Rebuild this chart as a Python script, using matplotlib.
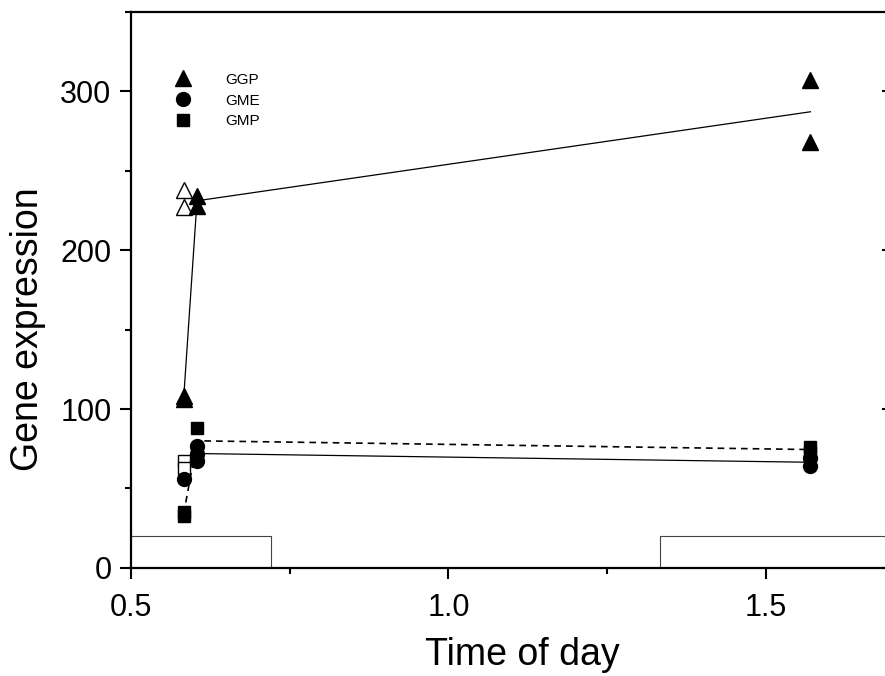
import matplotlib
matplotlib.use("Agg")
import matplotlib.pyplot as plt
from matplotlib.ticker import MultipleLocator

plt.rcParams["font.family"] = ["Liberation Sans", "DejaVu Sans"]

# time of day for each group of samples
t_a = 0.583
t_b = 0.604
t_c = 1.57

# GGP
ggp_x = [t_a, t_a, t_b, t_b, t_c, t_c]
ggp_y = [106, 108, 234, 228, 307, 268]
ggp_open_x = [t_a, t_a]
ggp_open_y = [238, 227]
ggp_mean_x = [t_a, t_b, t_c]
ggp_mean_y = [107, 231, 287]

# GME
gme_x = [t_a, t_b, t_b, t_b, t_c, t_c]
gme_y = [56, 77, 72, 67, 69, 64]
gme_mean_x = [t_a, t_b, t_c]
gme_mean_y = [56, 72, 66.5]

# GMP
gmp_x = [t_a, t_a, t_b, t_b, t_c, t_c]
gmp_y = [33, 35, 88, 72, 76, 73]
gmp_open_x = [t_a, t_a]
gmp_open_y = [67, 63]
gmp_mean_x = [t_a, t_b, t_c]
gmp_mean_y = [34, 80, 74.5]

# light phases (boxes along the bottom)
light1_x = [0.5, 0.721, 0.721]
light1_y = [20, 20, 0]
light2_x = [1.333, 1.333, 1.7]
light2_y = [0, 20, 20]

fig = plt.figure(figsize=(8.85, 6.76), dpi=100)
ax = fig.add_axes([0.148, 0.1598, 0.861, 0.823])

ax.plot(light1_x, light1_y, color="#444444", lw=0.8, zorder=1)
ax.plot(light2_x, light2_y, color="#444444", lw=0.8, zorder=1)

ax.plot(ggp_mean_x, ggp_mean_y, "k-", lw=0.9, zorder=2)
ax.plot(gme_mean_x, gme_mean_y, "k-", lw=0.9, zorder=2)
ax.plot(gmp_mean_x, gmp_mean_y, "k--", lw=1.2, dashes=(4, 3), zorder=2)

ax.plot(ggp_open_x, ggp_open_y, "^", mfc="white", mec="k", mew=1.0, ms=11, ls="none", zorder=3)
ax.plot(gmp_open_x, gmp_open_y, "s", mfc="white", mec="k", mew=1.0, ms=9, ls="none", zorder=3)
ax.plot(ggp_x, ggp_y, "^", color="k", ms=11, ls="none", label="GGP", zorder=4)
ax.plot(gme_x, gme_y, "o", color="k", ms=10, ls="none", label="GME", zorder=4)
ax.plot(gmp_x, gmp_y, "s", color="k", ms=9, ls="none", label="GMP", zorder=4)

ax.set_xlim(0.5, 1.7)
ax.set_ylim(0, 350)
ax.xaxis.set_major_locator(MultipleLocator(0.5))
ax.xaxis.set_minor_locator(MultipleLocator(0.25))
ax.yaxis.set_major_locator(MultipleLocator(100))
ax.yaxis.set_minor_locator(MultipleLocator(50))

for s in ax.spines.values():
    s.set_linewidth(1.6)

ax.tick_params(axis="both", which="major", direction="out", length=8, width=1.5, labelsize=22)
ax.tick_params(axis="both", which="minor", direction="out", length=4, width=1.5)
ax.tick_params(axis="x", which="major", pad=10)
ax.tick_params(axis="y", which="major", pad=6)
ax.tick_params(axis="y", which="major", right=True)
# right side ticks point inward
for t in ax.yaxis.get_major_ticks():
    t.tick2line.set_marker(matplotlib.lines.TICKLEFT)
    t.tick2line.set_markersize(8)

ax.set_xlabel("Time of day", fontsize=27, labelpad=10)
ax.set_ylabel("Gene expression", fontsize=27, labelpad=10)
ax.xaxis.label.set_x(0.513)
ax.yaxis.label.set_y(0.43)

ax.legend(loc="upper left", bbox_to_anchor=(0.03, 0.915), frameon=False, fontsize=11,
          handletextpad=1.8, labelspacing=0.45, numpoints=1)

plt.savefig("out.png", dpi=100)
